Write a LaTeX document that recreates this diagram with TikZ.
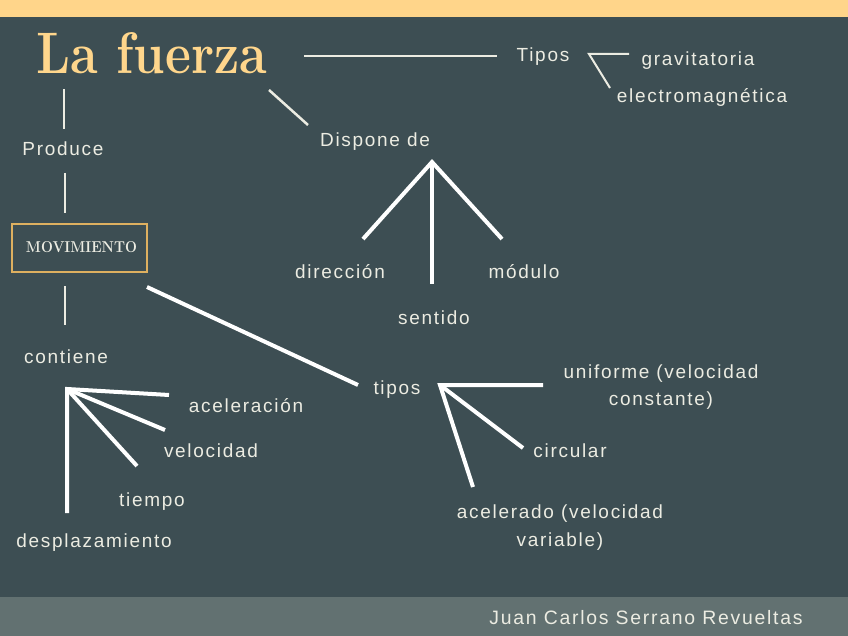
\documentclass[tikz,border=0pt]{standalone}
\usepackage{fontspec}
\usepackage{graphicx}
\newfontfamily\bodyfont{Liberation Sans}[LetterSpace=9]
\newfontfamily\titlefont{Latin Modern Roman}
\definecolor{bg}{RGB}{61,78,83}
\definecolor{topbar}{RGB}{255,213,138}
\definecolor{botbar}{RGB}{98,113,113}
\definecolor{titlecol}{RGB}{255,214,140}
\definecolor{boxcol}{RGB}{222,176,96}
\definecolor{txt}{RGB}{236,236,226}
\begin{document}
\begin{tikzpicture}[x=1pt,y=-1pt,
  lbl/.style={anchor=base,inner sep=0pt,text=txt,font=\bodyfont\fontsize{19}{22}\selectfont},
  thin/.style={draw=txt,line width=2pt},
  thick/.style={draw=white,line width=4pt},
]
\useasboundingbox (0,0) rectangle (848,636);
\fill[bg] (0,0) rectangle (848,636);
\fill[topbar] (0,0) rectangle (848,17);
\fill[botbar] (0,597) rectangle (848,636);

% title
\node[anchor=base west,inner sep=0pt,text=titlecol,font=\titlefont\bfseries\fontsize{57}{57}\selectfont] (title) at (36,74) {\resizebox{231pt}{41pt}{La fuerza}};
% box
\node[draw=boxcol,line width=1.5pt,minimum width=135pt,minimum height=48pt,inner sep=0pt] (box) at (79.5,248) {};
\node[anchor=base,inner sep=0pt,text=txt,font=\titlefont\bfseries\fontsize{16}{16}\selectfont] (mov) at (81.5,253) {\resizebox{111pt}{11pt}{MOVIMIENTO}};

% labels
\node[lbl] (tipos1) at (543,62) {Tipos};
\node[lbl] (grav) at (698,66) {gravitatoria};
\node[lbl] (elec) at (702,103) {electromagnética};
\node[lbl] (prod) at (63,156) {Produce};
\node[lbl] (disp) at (375,147) {Dispone de};
\node[lbl] (dir) at (340,279) {dirección};
\node[lbl] (sent) at (434,324) {sentido};
\node[lbl] (mod) at (524,279) {módulo};
\node[lbl] (cont) at (66,363) {contiene};
\node[lbl] (acel) at (246,412) {aceleración};
\node[lbl] (vel) at (211,457) {velocidad};
\node[lbl] (tiem) at (152,506) {tiempo};
\node[lbl] (desp) at (94,547) {desplazamiento};
\node[lbl] (tipos2) at (397,394) {tipos};
\node[lbl] (unia) at (661,378) {uniforme (velocidad};
\node[lbl] (unib) at (661,405) {constante)};
\node[lbl] (circ) at (570,457) {circular};
\node[lbl] (acea) at (560,518) {acelerado (velocidad};
\node[lbl] (aceb) at (560,546) {variable)};
\node[lbl,font=\bodyfont\fontsize{19.4}{22}\selectfont] (autor) at (646,624) {Juan Carlos Serrano Revueltas};

% connector coordinates
\coordinate (t1) at (304,56);
\coordinate (t2) at (497,56);
\coordinate (b1) at (629,54);
\coordinate (b0) at (589,54);
\coordinate (b2) at (610,88);
\coordinate (d1) at (269,90);
\coordinate (d2) at (308,125);
\coordinate (p1) at (64,89);
\coordinate (p2) at (64,129);
\coordinate (m1) at (65,173);
\coordinate (m2) at (65,213);
\coordinate (c1) at (65,286);
\coordinate (c2) at (65,325);
\coordinate (k1) at (147,287);
\coordinate (k2) at (358,385);
\coordinate (fa) at (67,389);
\coordinate (fa1) at (169,395);
\coordinate (fa2) at (165,430);
\coordinate (fa3) at (137,466);
\coordinate (fa4) at (67,513);
\coordinate (da) at (432,162);
\coordinate (da1) at (363,239);
\coordinate (da2) at (432,284);
\coordinate (da3) at (502,239);
\coordinate (ta) at (440,385);
\coordinate (ta1) at (543,385);
\coordinate (ta2) at (523,448);
\coordinate (ta3) at (473,487);

\draw[thin] (t1) -- (t2);
\draw[thin,line join=miter] (b1) -- (b0) -- (b2);
\draw[thin,line width=2.5pt] (d1) -- (d2);
\draw[thin] (p1) -- (p2);
\draw[thin] (m1) -- (m2);
\draw[thin] (c1) -- (c2);
\draw[thick] (k1) -- (k2);
\draw[thick] (fa1) -- (fa) -- (fa4);
\draw[thick] (fa) -- (fa2);
\draw[thick] (fa) -- (fa3);
\draw[thick] (da1) -- (da) -- (da3);
\draw[thick] (da) -- (da2);
\draw[thick] (ta1) -- (ta) -- (ta3);
\draw[thick] (ta) -- (ta2);
\end{tikzpicture}
\end{document}
